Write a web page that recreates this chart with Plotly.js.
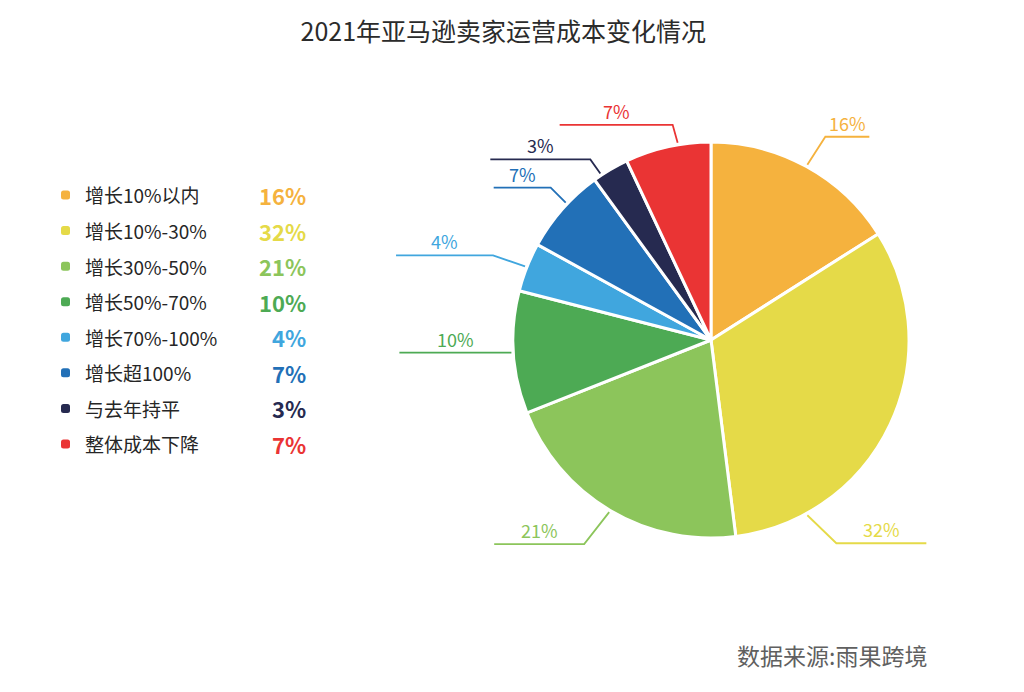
<!DOCTYPE html>
<html>
<head>
<meta charset="utf-8">
<script src="https://cdn.plot.ly/plotly-3.0.1.min.js"></script>
<style>html,body{margin:0;padding:0;background:#fff;}#chart{width:1024px;height:692px;}</style>
</head>
<body>
<div id="chart"></div>
<script>
// ---- data ----
const categories = ["增长10%以内", "增长10%-30%", "增长30%-50%", "增长50%-70%", "增长70%-100%", "增长超100%", "与去年持平", "整体成本下降"];
const shares = [16, 32, 21, 10, 4, 7, 3, 7];
const percentLabels = ["16%", "32%", "21%", "10%", "4%", "7%", "3%", "7%"];
const sliceColors = ["#F5B23E", "#E5DA48", "#8CC55B", "#4DAA54", "#40A6DE", "#2270B7", "#262A50", "#EA3434"];
const titleText = "2021年亚马逊卖家运营成本变化情况";
const sourceText = "数据来源:雨果跨境";

// ---- layout geometry (styling only) ----
const W = 1024, H = 692;
const CX = 711, CY = 340, R = 198;
const leaderStyle = [
  {shift: 0,  dx: 18,  dy: -28, len: 44},
  {shift: 36, dx: 29,  dy: 28,  len: 90},
  {shift: 0,  dx: -25, dy: 32,  len: 90},
  {shift: 0,  dx: 0,   dy: 0,   len: 112},
  {shift: 0,  dx: -32, dy: -11, len: 97},
  {shift: 2,  dx: -15, dy: -15, len: 57},
  {shift: -3, dx: -10, dy: -14, len: 100},
  {shift: 3,  dx: -5,  dy: -18, len: 113}
];
const FONT = '"Noto Sans CJK SC", "Noto Sans", sans-serif';
const px = x => x / W;
const py = y => 1 - y / H;

const shapes = [];
const annotations = [];

// leader lines from slice mid-angles
const total = shares.reduce((a, b) => a + b, 0);
let cum = 0;
shares.forEach((v, i) => {
  const st = leaderStyle[i];
  const midDeg = (cum + v / 2) / total * 360 + st.shift;
  cum += v;
  const a = midDeg * Math.PI / 180;
  const x0 = CX + (R + 2) * Math.sin(a);
  const y0 = CY - (R + 2) * Math.cos(a);
  const x1 = x0 + st.dx, y1 = y0 + st.dy;
  const side = st.dx !== 0 ? Math.sign(st.dx) : (Math.sin(a) < 0 ? -1 : 1);
  const x2 = x1 + side * st.len;
  shapes.push({
    type: 'path', xref: 'paper', yref: 'paper',
    path: `M ${px(x0)} ${py(y0)} L ${px(x1)} ${py(y1)} L ${px(x2)} ${py(y1)}`,
    line: {color: sliceColors[i], width: 1.8}
  });
  annotations.push({
    xref: 'paper', yref: 'paper', x: px((x1 + x2) / 2), y: py(y1 - 14),
    text: percentLabels[i], showarrow: false, xanchor: 'center', yanchor: 'middle',
    font: {family: FONT, size: 18, color: sliceColors[i]}
  });
});

// custom legend
const LY0 = 195, LDY = 35.57;
categories.forEach((c, i) => {
  const y = LY0 + i * LDY;
  const s = 4.5, r = 2.5, x = 65.5;
  const l = x - s, rr = x + s, t = y - s, b = y + s;
  const p = `M ${px(l + r)} ${py(t)} L ${px(rr - r)} ${py(t)} Q ${px(rr)} ${py(t)} ${px(rr)} ${py(t + r)} ` +
            `L ${px(rr)} ${py(b - r)} Q ${px(rr)} ${py(b)} ${px(rr - r)} ${py(b)} ` +
            `L ${px(l + r)} ${py(b)} Q ${px(l)} ${py(b)} ${px(l)} ${py(b - r)} ` +
            `L ${px(l)} ${py(t + r)} Q ${px(l)} ${py(t)} ${px(l + r)} ${py(t)} Z`;
  shapes.push({type: 'path', xref: 'paper', yref: 'paper', path: p,
    fillcolor: sliceColors[i], line: {width: 0}});
  annotations.push({
    xref: 'paper', yref: 'paper', x: px(83), y: py(y), text: c, showarrow: false,
    xanchor: 'left', yanchor: 'middle',
    font: {family: FONT, size: 19, color: '#262626'}
  });
  annotations.push({
    xref: 'paper', yref: 'paper', x: px(308), y: py(y), text: '<b>' + percentLabels[i] + '</b>',
    showarrow: false, xanchor: 'right', yanchor: 'middle',
    font: {family: FONT, size: 22, color: sliceColors[i]}
  });
});

annotations.push({
  xref: 'paper', yref: 'paper', x: px(929), y: py(655), text: sourceText, showarrow: false,
  xanchor: 'right', yanchor: 'middle', font: {family: FONT, size: 23, color: '#606060'}
});

const trace = {
  type: 'pie', labels: categories, values: shares, sort: false,
  direction: 'clockwise', rotation: 0, textinfo: 'none', hoverinfo: 'label+percent',
  marker: {colors: sliceColors, line: {color: '#ffffff', width: 3}},
  domain: {x: [px(CX - R), px(CX + R)], y: [py(CY + R), py(CY - R)]},
  showlegend: false
};

const layout = {
  width: W, height: H, margin: {l: 0, r: 0, t: 0, b: 0},
  paper_bgcolor: '#ffffff', plot_bgcolor: '#ffffff', showlegend: false,
  title: {text: titleText, x: 0.4915, xanchor: 'center', y: py(32), yanchor: 'middle',
          font: {family: FONT, size: 25, color: '#2b2b2b'}},
  shapes: shapes, annotations: annotations
};

Plotly.newPlot('chart', [trace], layout, {displayModeBar: false, staticPlot: true});
</script>
</body>
</html>
